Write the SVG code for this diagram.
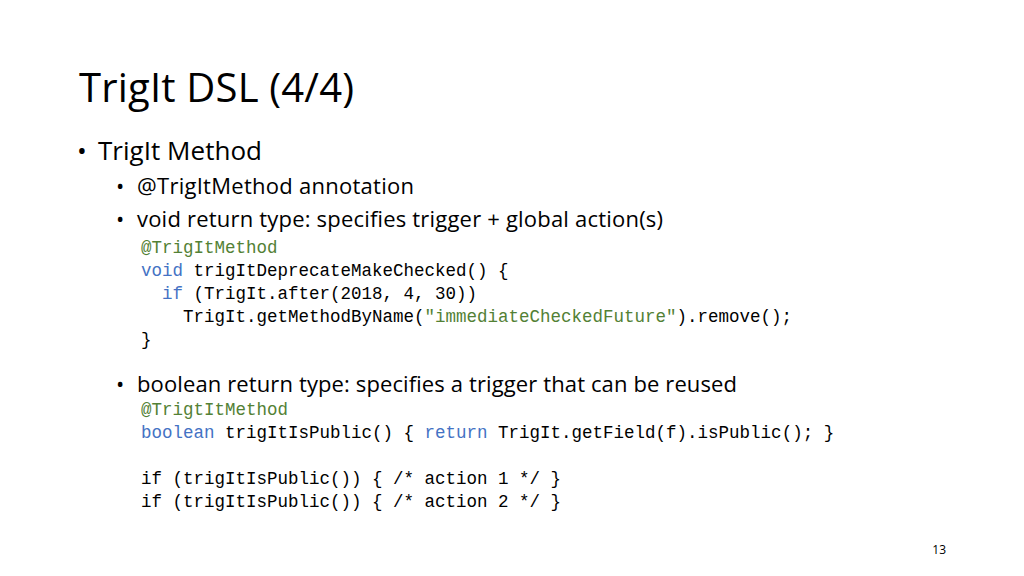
<svg xmlns="http://www.w3.org/2000/svg" width="1024" height="576" viewBox="0 0 1024 576">
<style>
.t{font-family:"Open Sans","Liberation Sans",sans-serif;fill:#000}
.c{font-family:"Liberation Mono","DejaVu Sans Mono",monospace;font-size:17.5px;fill:#000}
.k{fill:#4472C4}.a{fill:#538135}
</style>
<rect width="1024" height="576" fill="#fff"/>
<text class="t" x="79" y="102" font-size="40" fill="#333" textLength="275">TrigIt DSL (4/4)</text>
<text class="t" x="77" y="160" font-size="26">•</text>
<text class="t" x="98" y="160" font-size="26" textLength="164">TrigIt Method</text>
<text class="t" x="116" y="194" font-size="22">•</text>
<text class="t" x="137" y="194" font-size="22" textLength="277">@TrigItMethod annotation</text>
<text class="t" x="116" y="227" font-size="22">•</text>
<text class="t" x="137" y="227" font-size="22" textLength="526">void return type: specifies trigger + global action(s)</text>
<g xml:space="preserve">
<text class="c a" x="141" y="253">@TrigItMethod</text>
<text class="c" x="141" y="276"><tspan class="k">void</tspan> trigItDeprecateMakeChecked() {</text>
<text class="c" x="162" y="299"><tspan class="k">if</tspan> (TrigIt.after(2018, 4, 30))</text>
<text class="c" x="183" y="322">TrigIt.getMethodByName(<tspan class="a">"immediateCheckedFuture"</tspan>).remove();</text>
<text class="c" x="141" y="345">}</text>
</g>
<text class="t" x="116" y="392" font-size="22">•</text>
<text class="t" x="137" y="392" font-size="22" textLength="600">boolean return type: specifies a trigger that can be reused</text>
<g xml:space="preserve">
<text class="c a" x="141" y="415">@TrigtItMethod</text>
<text class="c" x="141" y="438"><tspan class="k">boolean</tspan> trigItIsPublic() { <tspan class="k">return</tspan> TrigIt.getField(f).isPublic(); }</text>
<text class="c" x="141" y="484">if (trigItIsPublic()) { /* action 1 */ }</text>
<text class="c" x="141" y="507">if (trigItIsPublic()) { /* action 2 */ }</text>
</g>
<text class="t" x="946" y="554" font-size="12" fill="#888" text-anchor="end">13</text>
</svg>
